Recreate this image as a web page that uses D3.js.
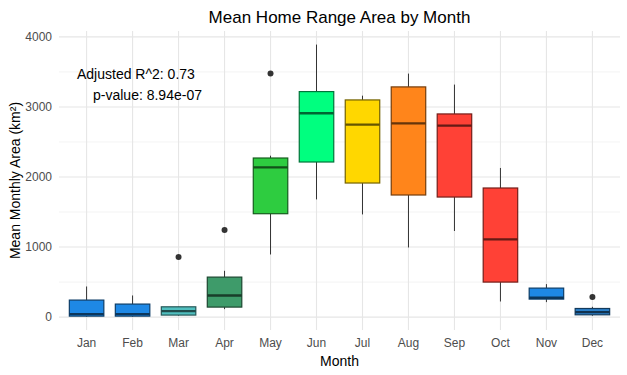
<!DOCTYPE html>
<html>
<head>
<meta charset="utf-8">
<script src="https://cdn.jsdelivr.net/npm/d3@7"></script>
<style>
  body { margin: 0; background: #fff; }
  text { font-family: "Liberation Sans", Arial, sans-serif; }
  .tick text { fill: #4d4d4d; font-size: 12px; }
</style>
</head>
<body>
<div id="chart"></div>
<script>
// values
const months = ["Jan","Feb","Mar","Apr","May","Jun","Jul","Aug","Sep","Oct","Nov","Dec"];
const whiskerLow = [5, 5, 20, 114, 894, 1680, 1466, 994, 1229, 223, 214, 19];
const q1 = [14, 14, 29, 143, 1476, 2214, 1914, 1743, 1714, 500, 257, 33];
const medians = [43, 43, 86, 309, 2137, 2909, 2747, 2766, 2733, 1109, 276, 71];
const q3 = [243, 186, 147, 571, 2271, 3219, 3100, 3286, 2900, 1843, 414, 123];
const whiskerHigh = [437, 309, 150, 661, 2304, 3890, 3161, 3476, 3319, 2129, 471, 147];
const outliers = [[], [], [857], [1243], [3476], [], [], [], [], [], [], [286]];
const fills = ["#1e88e5","#1e88e5","#50bfbf","#3e9b6a","#2ecc40","#00ff7f","#ffd700","#ff851b","#ff4136","#ff4136","#1e88e5","#2a7fc8"];
const yTicks = [0, 1000, 2000, 3000, 4000];
const yMinor = [500, 1500, 2500, 3500];

const data = months.map((m, i) => ({
  month: m, lo: whiskerLow[i], q1: q1[i], med: medians[i], q3: q3[i],
  hi: whiskerHigh[i], out: outliers[i], fill: fills[i]
}));

const W = 627, H = 375;
const margin = {top: 31, right: 7, bottom: 45, left: 59};
const width = W - margin.left - margin.right;
const height = H - margin.top - margin.bottom;

const svg = d3.select("#chart").append("svg")
  .attr("width", W).attr("height", H);

const g = svg.append("g")
  .attr("transform", "translate(" + margin.left + "," + margin.top + ")");

// scales
const x = d3.scaleBand().domain(months).range([0, width]).paddingOuter(0.1).paddingInner(0);
const y = d3.scaleLinear().domain([-184, 4084]).range([height, 0]);
const boxW = x.bandwidth() * 0.75;

// grid
g.append("g").selectAll("line").data(yMinor).enter().append("line")
  .attr("x1", 0).attr("x2", width)
  .attr("y1", d => y(d)).attr("y2", d => y(d))
  .attr("stroke", "#ebebeb").attr("stroke-width", 0.6);
g.append("g").selectAll("line").data(yTicks).enter().append("line")
  .attr("x1", 0).attr("x2", width)
  .attr("y1", d => y(d)).attr("y2", d => y(d))
  .attr("stroke", "#e6e6e6").attr("stroke-width", 1.1);
g.append("g").selectAll("line").data(months).enter().append("line")
  .attr("x1", d => x(d) + x.bandwidth() / 2).attr("x2", d => x(d) + x.bandwidth() / 2)
  .attr("y1", 0).attr("y2", height)
  .attr("stroke", "#e6e6e6").attr("stroke-width", 1.1);

// axes
g.append("g")
  .attr("transform", "translate(0," + height + ")")
  .call(d3.axisBottom(x).tickSize(0).tickPadding(8))
  .call(s => s.select(".domain").remove());
g.append("g")
  .call(d3.axisLeft(y).tickValues(yTicks).tickFormat(d3.format("d")).tickSize(0).tickPadding(7))
  .call(s => s.select(".domain").remove());

// boxes
const box = g.append("g").selectAll("g").data(data).enter().append("g")
  .attr("transform", d => "translate(" + (x(d.month) + x.bandwidth() / 2) + ",0)");

box.append("line")
  .attr("x1", 0).attr("x2", 0)
  .attr("y1", d => y(d.q3)).attr("y2", d => y(d.hi))
  .attr("stroke", "#333").attr("stroke-width", 1);
box.append("line")
  .attr("x1", 0).attr("x2", 0)
  .attr("y1", d => y(d.q1)).attr("y2", d => y(d.lo))
  .attr("stroke", "#333").attr("stroke-width", 1);
box.append("rect")
  .attr("x", -boxW / 2).attr("width", boxW)
  .attr("y", d => y(d.q3)).attr("height", d => y(d.q1) - y(d.q3))
  .attr("fill", d => d.fill)
  .attr("stroke", d => d3.color(d.fill).darker(2.2))
  .attr("stroke-width", 1.2);
box.append("line")
  .attr("x1", -boxW / 2).attr("x2", boxW / 2)
  .attr("y1", d => y(d.med)).attr("y2", d => y(d.med))
  .attr("stroke", d => d3.color(d.fill).darker(2.6))
  .attr("stroke-width", 2.4);
box.selectAll("circle").data(d => d.out).enter().append("circle")
  .attr("cx", 0).attr("cy", d => y(d)).attr("r", 3)
  .attr("fill", "#333");

// titles
svg.append("text")
  .attr("x", margin.left + width / 2).attr("y", 23)
  .attr("text-anchor", "middle")
  .style("font-size", "17px").style("fill", "#000")
  .text("Mean Home Range Area by Month");
svg.append("text")
  .attr("x", margin.left + width / 2).attr("y", 366)
  .attr("text-anchor", "middle")
  .style("font-size", "14px").style("fill", "#000")
  .text("Month");
svg.append("text")
  .attr("transform", "translate(20," + (margin.top + height / 2) + ") rotate(-90)")
  .attr("text-anchor", "middle")
  .style("font-size", "14px").style("fill", "#000")
  .text("Mean Monthly Area (km²)");

// annotation
svg.append("text")
  .attr("x", 77).attr("y", 78.5)
  .style("font-size", "14px").style("fill", "#000")
  .text("Adjusted R^2: 0.73");
svg.append("text")
  .attr("x", 93).attr("y", 99.5)
  .style("font-size", "14px").style("fill", "#000")
  .text("p-value: 8.94e-07");
</script>
</body>
</html>
